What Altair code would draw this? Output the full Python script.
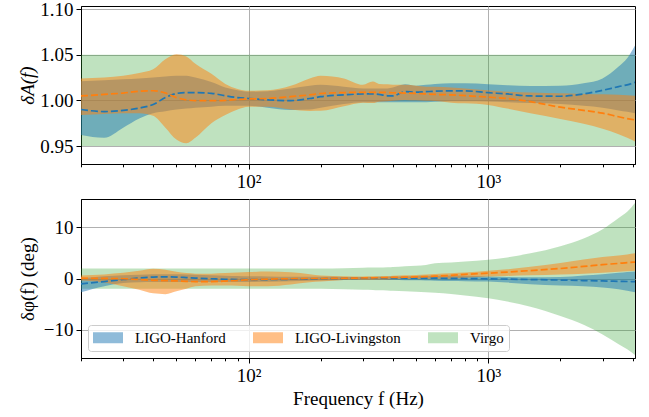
import altair as alt
import pandas as pd

# ---------------- data ----------------
freq = [20, 25, 30, 35, 40, 45, 50, 55, 60, 70, 80, 90, 100, 120, 150, 180, 200,
        250, 300, 330, 350, 380, 400, 450, 500, 550, 600, 700, 800, 1000, 1200,
        1500, 2000, 2500, 3000, 3500, 3800, 4096]

# amplitude, LIGO-Hanford
h_amp_lo = [0.962, 0.959, 0.970, 0.980, 0.986, 0.988, 0.990, 0.991, 0.992, 0.993,
            0.994, 0.994, 0.994, 0.992, 0.9895, 0.990, 0.992,
            0.996, 0.998, 0.998, 0.998, 0.998, 0.998, 0.998, 0.998, 0.998, 0.9985,
            0.999, 0.999, 0.9988, 0.998, 0.997, 0.996, 0.994, 0.992, 0.989, 0.9875, 0.986]
h_amp_hi = [1.021, 1.022, 1.023, 1.024, 1.025, 1.026, 1.027, 1.027, 1.025, 1.020,
            1.014, 1.011, 1.0095, 1.010, 1.013, 1.016, 1.017,
            1.015, 1.013, 1.013, 1.013, 1.013, 1.014, 1.0175, 1.016, 1.017, 1.018,
            1.0186, 1.0186, 1.0175, 1.0165, 1.0157, 1.016, 1.0186, 1.024, 1.037, 1.046, 1.060]
h_amp_med = [0.990, 0.9877, 0.989, 0.9915, 0.9955, 1.003, 1.0075, 1.0085, 1.0085, 1.0077,
             1.005, 1.003, 1.002, 1.0005, 0.9997, 1.002, 1.004,
             1.006, 1.007, 1.007, 1.0065, 1.005, 1.0048, 1.0095, 1.009, 1.0095, 1.010,
             1.0103, 1.0103, 1.0084, 1.007, 1.0048, 1.0045, 1.007, 1.011, 1.015, 1.017, 1.0197]

# amplitude, LIGO-Livingston
l_amp_lo = [0.984, 0.985, 0.986, 0.986, 0.983, 0.970, 0.957, 0.953, 0.959, 0.975,
            0.984, 0.990, 0.993, 0.993, 0.990, 0.9884, 0.9885,
            0.9935, 0.9975, 0.997, 0.9985, 0.999, 0.9995, 1.0004, 1.0, 0.9995, 0.9993,
            0.9975, 0.9967, 0.995, 0.991, 0.9858, 0.9796, 0.9745, 0.969, 0.963, 0.959, 0.9548]
l_amp_hi = [1.024, 1.025, 1.027, 1.030, 1.034, 1.045, 1.0505, 1.048, 1.040, 1.029,
            1.018, 1.0125, 1.0105, 1.011, 1.016, 1.024, 1.027,
            1.024, 1.017, 1.0205, 1.018, 1.0175, 1.017, 1.017, 1.016, 1.015, 1.015,
            1.014, 1.013, 1.011, 1.0095, 1.0085, 1.0077, 1.007, 1.0066, 1.006, 1.0055, 1.005]
l_amp_med = [1.0048, 1.0065, 1.008, 1.010, 1.0105, 1.008, 1.003, 1.0005, 0.9998, 0.9996,
             1.0, 1.001, 1.0015, 1.002, 1.004, 1.006, 1.0075,
             1.0085, 1.0088, 1.0088, 1.0088, 1.0085, 1.0083, 1.008, 1.0077, 1.007, 1.0065,
             1.006, 1.0052, 1.0035, 1.002, 0.9986, 0.9925, 0.989, 0.986, 0.982, 0.980, 0.9786]

# amplitude, Virgo
v_amp_freq = [20, 4096]
v_amp_lo = [0.95, 0.95]
v_amp_hi = [1.05, 1.05]

# phase (deg), LIGO-Hanford
h_ph_lo = [-2.7, -1.5, -0.9, -0.75, -0.7, -0.7, -0.7, -0.7, -0.7, -0.7,
           -0.7, -0.7, -0.7, -0.65, -0.55, -0.45, -0.4,
           -0.3, -0.25, -0.25, -0.25, -0.27, -0.28, -0.32, -0.36, -0.4, -0.43,
           -0.48, -0.52, -0.6, -0.8, -1.1, -1.35, -1.5, -1.75, -2.1, -2.4, -2.67]
h_ph_hi = [0.06, 0.45, 0.62, 0.75, 0.85, 0.85, 0.82, 0.78, 0.75, 0.65,
           0.55, 0.5, 0.45, 0.4, 0.35, 0.33, 0.32,
           0.3, 0.3, 0.3, 0.32, 0.35, 0.37, 0.42, 0.48, 0.52, 0.56,
           0.58, 0.55, 0.4, 0.3, 0.22, 0.3, 0.6, 0.85, 1.1, 1.25, 1.37]
h_ph_med = [-1.04, -0.6, -0.2, 0.1, 0.28, 0.33, 0.28, 0.18, 0.08, -0.05,
            -0.15, -0.2, -0.2, -0.2, -0.15, -0.1, -0.05,
            0.0, 0.05, 0.06, 0.07, 0.08, 0.08, 0.08, 0.07, 0.07, 0.06,
            0.03, 0.0, -0.07, -0.12, -0.2, -0.3, -0.4, -0.48, -0.55, -0.58, -0.6]

# phase (deg), LIGO-Livingston
l_ph_lo = [-0.4, -0.8, -1.5, -2.2, -2.9, -3.05, -2.5, -2.0, -1.5, -1.35,
           -1.37, -1.4, -1.5, -1.5, -1.15, -0.75, -0.6,
           -0.3, -0.25, -0.22, -0.2, -0.18, -0.15, -0.12, -0.1, -0.08, -0.07,
           -0.05, 0.15, 0.4, 0.5, 0.65, 0.8, 0.95, 1.1, 1.3, 1.4, 1.5]
l_ph_hi = [0.6, 0.8, 1.1, 1.5, 1.9, 1.7, 1.3, 1.05, 0.95, 0.95,
           1.05, 1.15, 1.25, 1.35, 1.2, 0.85, 0.6,
           0.45, 0.4, 0.42, 0.45, 0.5, 0.55, 0.62, 0.7, 0.8, 0.9,
           1.04, 1.15, 1.5, 1.8, 2.3, 3.0, 3.7, 4.2, 4.5, 4.7, 4.9]
l_ph_med = [0.06, 0.02, -0.05, -0.2, -0.35, -0.42, -0.48, -0.55, -0.6, -0.6,
            -0.5, -0.35, -0.25, -0.12, -0.05, 0.0, 0.0,
            0.05, 0.1, 0.13, 0.15, 0.18, 0.2, 0.25, 0.3, 0.36, 0.45,
            0.6, 0.8, 1.04, 1.25, 1.55, 1.95, 2.35, 2.7, 2.95, 3.1, 3.2]

# phase (deg), Virgo
v_ph_lo = [-2.0, -2.0, -2.0, -2.0, -2.0, -2.0, -2.0, -2.0, -2.0, -2.0,
           -2.0, -2.0, -2.0, -2.0, -2.0, -2.0, -2.0,
           -2.1, -2.2, -2.25, -2.3, -2.35, -2.4, -2.5, -2.6, -2.7, -2.8,
           -3.0, -3.3, -3.85, -4.5, -5.5, -7.3, -9.0, -10.9, -12.8, -13.8, -14.9]
v_ph_hi = [1.95, 1.95, 1.95, 1.95, 1.95, 1.95, 1.95, 1.95, 1.95, 1.95,
           1.95, 1.95, 1.95, 1.95, 1.95, 1.95, 1.95,
           2.0, 2.1, 2.15, 2.15, 2.2, 2.25, 2.4, 2.5, 2.65, 2.95,
           3.1, 3.3, 3.65, 4.1, 4.9, 6.3, 7.8, 9.6, 11.8, 13.0, 14.7]

detectors = ["LIGO-Hanford", "LIGO-Livingston", "Virgo"]
colors = ["#1f77b4", "#ff7f0e", "#2ca02c"]
alphas = [0.5, 0.5, 0.3]
swatch_colors = ["#8fbbd9", "#ffbf86", "#c0e3c0"]  # the fills above, as seen on white

x_ticks = [20, 30, 40, 50, 60, 70, 80, 90, 100, 200, 300, 400, 500, 600, 700, 800,
           900, 1000, 2000, 3000, 4000]
amp_ticks = [0.95, 1.00, 1.05, 1.10]
ph_ticks = [-10, 0, 10]

# ---------------- chart ----------------
FONT = "Liberation Serif, Times New Roman, DejaVu Serif, serif"
W, H1, H2 = 554, 158, 159
MAJOR = "datum.value == 100 || datum.value == 1000"

xscale = alt.Scale(type="log", domain=[20, 4096], nice=False)
amp_scale = alt.Scale(domain=[0.9303, 1.1033], nice=False, zero=False)
ph_scale = alt.Scale(domain=[-15.5, 15.5], nice=False, zero=False)


def x_axis(title):
    kw = dict(
        values=x_ticks,
        labelExpr="datum.value == 100 ? '10²' : (datum.value == 1000 ? '10³' : '')",
        labelOverlap=False,
        labelFlush=False,
        tickSize={"condition": {"test": MAJOR, "value": 5}, "value": 2.8},
        gridOpacity={"condition": {"test": MAJOR, "value": 1}, "value": 0},
        labelPadding=3,
        titlePadding=4,
        titleFont=FONT,
    )
    return alt.Axis(title=title, **kw)


amp_axis = alt.Axis(values=amp_ticks, format=".2f", title="δA(f)", tickSize=5,
                    labelPadding=3, titleX=-54, titleY=H1 / 2, titleBaseline="middle",
                    titleFontStyle="italic", titleFont=FONT)
ph_axis = alt.Axis(values=ph_ticks, title="δφ(f) (deg)", tickSize=5, labelPadding=3,
                   labelExpr="datum.value < 0 ? '−' + abs(datum.value) : '' + datum.value",
                   titleX=-54, titleY=H2 / 2, titleBaseline="middle", titleFont=FONT)


def frame(fr, lo, hi, det, med=None):
    d = pd.DataFrame({"f": fr, "lo": lo, "hi": hi})
    d["det"] = det
    if med is not None:
        d["med"] = med
    return d


def panel(bands, lines, yscale, yaxis, xaxis, with_legend, height):
    layers = []
    for df, i in bands:
        layers.append(
            alt.Chart(df).mark_area(clip=True, interpolate="monotone",
                                    color=colors[i], opacity=alphas[i]).encode(
                x=alt.X("f:Q", scale=xscale, axis=xaxis),
                y=alt.Y("lo:Q", scale=yscale, axis=yaxis),
                y2="hi:Q",
            )
        )
    for df, i in lines:
        layers.append(
            alt.Chart(df).mark_line(clip=True, interpolate="monotone", color=colors[i],
                                    strokeDash=[7, 3], strokeWidth=1.7).encode(
                x=alt.X("f:Q", scale=xscale, axis=xaxis),
                y=alt.Y("med:Q", scale=yscale, axis=yaxis),
            )
        )
    if with_legend:
        leg = alt.Legend(
            title=None, orient="bottom-left", direction="horizontal", columns=3,
            offset=7, symbolType="M-1,-0.37H1V0.37H-1Z", symbolSize=900,
            clipHeight=15, symbolStrokeWidth=0, symbolOpacity=1,
            labelFont=FONT, labelFontSize=15, labelColor="black", labelOffset=12,
            columnPadding=27, padding=5, fillColor="rgba(255,255,255,0.8)",
            strokeColor="#cccccc", cornerRadius=3,
        )
        # zero-height areas that only carry the legend entries
        for df, i in bands:
            layers.append(
                alt.Chart(df).mark_area(clip=True).encode(
                    x=alt.X("f:Q", scale=xscale, axis=xaxis),
                    y=alt.Y("lo:Q", scale=yscale, axis=yaxis),
                    y2="lo:Q",
                    color=alt.Color("det:N", legend=leg,
                                    scale=alt.Scale(domain=detectors, range=swatch_colors)),
                )
            )
    return alt.layer(*layers).properties(width=W, height=height)


h_amp = frame(freq, h_amp_lo, h_amp_hi, detectors[0], h_amp_med)
l_amp = frame(freq, l_amp_lo, l_amp_hi, detectors[1], l_amp_med)
v_amp = frame(v_amp_freq, v_amp_lo, v_amp_hi, detectors[2])
h_ph = frame(freq, h_ph_lo, h_ph_hi, detectors[0], h_ph_med)
l_ph = frame(freq, l_ph_lo, l_ph_hi, detectors[1], l_ph_med)
v_ph = frame(freq, v_ph_lo, v_ph_hi, detectors[2])

top = panel([(v_amp, 2), (h_amp, 0), (l_amp, 1)], [(h_amp, 0), (l_amp, 1)],
            amp_scale, amp_axis, x_axis(None), False, H1)
bottom = panel([(v_ph, 2), (h_ph, 0), (l_ph, 1)], [(h_ph, 0), (l_ph, 1)],
               ph_scale, ph_axis, x_axis("Frequency f (Hz)"), True, H2)

chart = (
    alt.vconcat(top, bottom, spacing=6)
    .resolve_legend(color="independent")
    .resolve_scale(color="independent")
    .properties(padding={"left": 17, "top": -1, "right": 10, "bottom": 5}, background="white")
    .configure_axis(
        labelFont=FONT, labelFontSize=19, labelColor="black",
        titleFont=FONT, titleFontSize=19, titleColor="black", titleFontWeight="normal",
        domainColor="black", domainWidth=1, tickColor="black", tickWidth=1,
        gridColor="#b0b0b0", gridWidth=1, zindex=1,
    )
    .configure_view(stroke="black", strokeWidth=1)
)

chart.save("out.html", embed_options={"renderer": "svg", "actions": False})
